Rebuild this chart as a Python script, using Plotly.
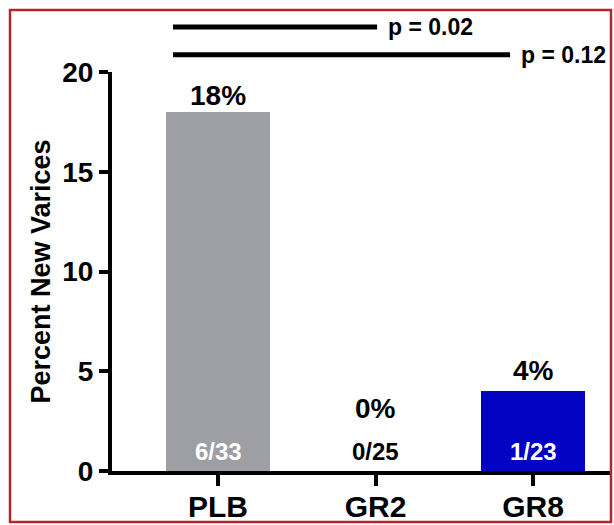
import plotly.graph_objects as go

categories = ["PLB", "GR2", "GR8"]
percent_values = [18, 0, 4]
percent_labels = ["18%", "0%", "4%"]
fraction_labels = ["6/33", "0/25", "1/23"]
bar_colors = ["#9e9ea5", "#ffffff", "#0303c4"]
fraction_colors = ["#ffffff", "#000000", "#ffffff"]
comparisons = [("PLB", "GR2", "p = 0.02"), ("PLB", "GR8", "p = 0.12")]
y_ticks = [0, 5, 10, 15, 20]

FONT = "Liberation Sans, Arial, sans-serif"
idx = {c: i for i, c in enumerate(categories)}

fig = go.Figure()
fig.add_trace(go.Bar(
    x=list(range(len(categories))), y=percent_values,
    marker=dict(color=bar_colors, line=dict(width=0)),
    width=0.66, hoverinfo="skip", showlegend=False,
))

ann = []
pct_shift = [16, 63, 21]
for i, (v, lab) in enumerate(zip(percent_values, percent_labels)):
    ann.append(dict(x=i, y=v, text=lab, showarrow=False, xref="x", yref="y",
                    yanchor="middle", yshift=pct_shift[i],
                    font=dict(family=FONT, size=28, color="#000", weight="bold")))
for i, (lab, col) in enumerate(zip(fraction_labels, fraction_colors)):
    ann.append(dict(x=i, y=0, text=lab, showarrow=False, xref="x", yref="y",
                    yanchor="middle", yshift=20,
                    font=dict(family=FONT, size=24, color=col, weight="bold")))

shapes = []
line_y = [1.113, 1.043]
end_trim = {"GR2": 0.01, "GR8": -0.146}
for (a, b, p), ly in zip(comparisons, line_y):
    x0 = idx[a] - 0.286
    x1 = idx[b] + end_trim[b]
    shapes.append(dict(type="line", xref="x", yref="paper", x0=x0, x1=x1, y0=ly, y1=ly,
                       line=dict(color="#000", width=5)))
    ann.append(dict(x=x1, y=ly, xref="x", yref="paper", text=p, showarrow=False,
                    xanchor="left", yanchor="middle", xshift=9,
                    font=dict(family=FONT, size=23, color="#000", weight="bold")))

# red outer border
shapes.append(dict(type="rect", xref="paper", yref="paper", x0=-0.2044, x1=1.0, y0=-0.128, y1=1.1554,
                   line=dict(color="#b3262c", width=2.5), layer="above"))

fig.update_layout(
    width=614, height=525,
    margin=dict(l=112, r=3, t=72, b=54),
    plot_bgcolor="white", paper_bgcolor="white",
    font=dict(family=FONT, color="#000"),
    bargap=0,
    xaxis=dict(
        range=[-0.673, 2.495], tickmode="array", tickvals=list(range(len(categories))),
        ticktext=categories, showline=True, linecolor="#000", linewidth=4,
        ticks="outside", ticklen=11, tickwidth=4, tickcolor="#000",
        showgrid=False, zeroline=False, ticklabelstandoff=-5,
        tickfont=dict(family=FONT, size=30, weight="bold"),
    ),
    yaxis=dict(
        range=[0, 20], tickvals=y_ticks, showline=True, linecolor="#000", linewidth=4,
        ticks="outside", ticklen=9, tickwidth=4, tickcolor="#000",
        showgrid=False, zeroline=False, ticklabelstandoff=0,
        tickfont=dict(family=FONT, size=28, weight="bold"),
        title=dict(text="Percent New Varices", standoff=5,
                   font=dict(family=FONT, size=27, weight="bold")),
    ),
    annotations=ann, shapes=shapes,
)
fig.write_html("out.html", config={"displayModeBar": False},
               post_script="document.body.style.margin='0';")
